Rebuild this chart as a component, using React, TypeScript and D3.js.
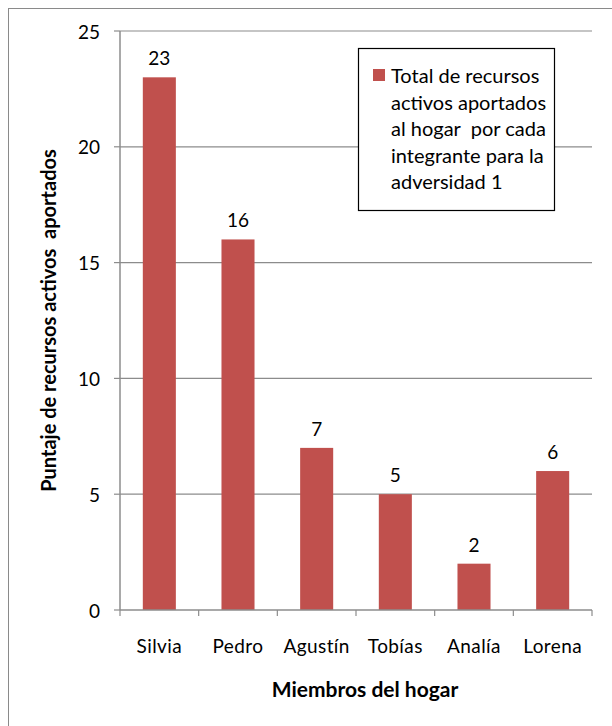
import React from "react";
import * as d3 from "d3";

const members = ["Silvia", "Pedro", "Agustín", "Tobías", "Analía", "Lorena"];
const scores = [23, 16, 7, 5, 2, 6];
const yTicks = [0, 5, 10, 15, 20, 25];
const legendLines = [
  "Total de recursos",
  "activos aportados",
  "al hogar  por cada",
  "integrante para la",
  "adversidad 1",
];

const W = 612;
const H = 726;
const font = "Lato, 'Open Sans', sans-serif";
const barColor = "#C0504D";
const gridColor = "#8C8C8C";

export default function App() {
  const left = 120;
  const right = 592;
  const top = 31;
  const bottom = 610;

  const x = d3.scaleBand<string>().domain(members).range([left, right]).paddingInner(0.58).paddingOuter(0.29);
  const band = d3.scaleBand<string>().domain(members).range([left, right]);
  const y = d3.scaleLinear().domain([0, 25]).range([bottom, top]);

  return (
    <svg
      width={W}
      height={H}
      style={{ position: "absolute", left: 0, top: 0 }}
      fontFamily={font}
    >
      <rect x={0} y={0} width={W} height={H} fill="#fff" />
      <rect x={8.5} y={8.5} width={W + 10} height={H + 10} fill="none" stroke="#8a8a8a" strokeWidth={1} />

      {yTicks.map((t) => (
        <g key={t}>
          {t > 0 && (
            <line x1={left} x2={right} y1={y(t)} y2={y(t)} stroke={gridColor} strokeWidth={1.2} />
          )}
          <line x1={left - 6} x2={left} y1={y(t)} y2={y(t)} stroke={gridColor} strokeWidth={1.2} />
          <text x={left - 20} y={y(t)} textAnchor="end" dominantBaseline="central" fontSize={19} fill="#000">
            {t}
          </text>
        </g>
      ))}

      {members.map((m, i) => (
        <g key={m}>
          <rect x={x(m)} y={y(scores[i])} width={x.bandwidth()} height={y(0) - y(scores[i])} fill={barColor} />
          <text
            x={(x(m) as number) + x.bandwidth() / 2}
            y={y(scores[i]) - 12}
            textAnchor="middle"
            fontSize={19}
            fill="#000"
          >
            {scores[i]}
          </text>
          <text
            x={(band(m) as number) + band.bandwidth() / 2}
            y={653}
            textAnchor="middle"
            fontSize={19}
            letterSpacing={0.4}
            fill="#000"
          >
            {m}
          </text>
        </g>
      ))}

      <line x1={left} x2={left} y1={top} y2={bottom} stroke={gridColor} strokeWidth={1.5} />
      <line x1={left} x2={right} y1={bottom} y2={bottom} stroke={gridColor} strokeWidth={1.5} />
      {[...members.map((m) => band(m) as number), right].map((p, i) => (
        <line key={i} x1={p} x2={p} y1={bottom} y2={bottom + 6} stroke={gridColor} strokeWidth={1.2} />
      ))}

      <text x={365} y={697} textAnchor="middle" fontSize={21} fontWeight="bold" fill="#000">
        Miembros del hogar
      </text>
      <text
        transform={`translate(56, ${(top + bottom) / 2}) rotate(-90)`}
        textAnchor="middle"
        fontSize={20}
        fontWeight="bold"
        fill="#000"
        style={{ whiteSpace: "pre" }}
      >
        Puntaje de recursos activos  aportados
      </text>

      <rect x={358.5} y={48.5} width={196} height={162} fill="#fff" stroke="#000" strokeWidth={1.2} />
      <rect x={373} y={69} width={12} height={12} fill={barColor} />
      {legendLines.map((l, i) => (
        <text key={i} x={391} y={83 + i * 26.5} fontSize={20} fill="#000" style={{ whiteSpace: "pre" }}>
          {l}
        </text>
      ))}
    </svg>
  );
}
